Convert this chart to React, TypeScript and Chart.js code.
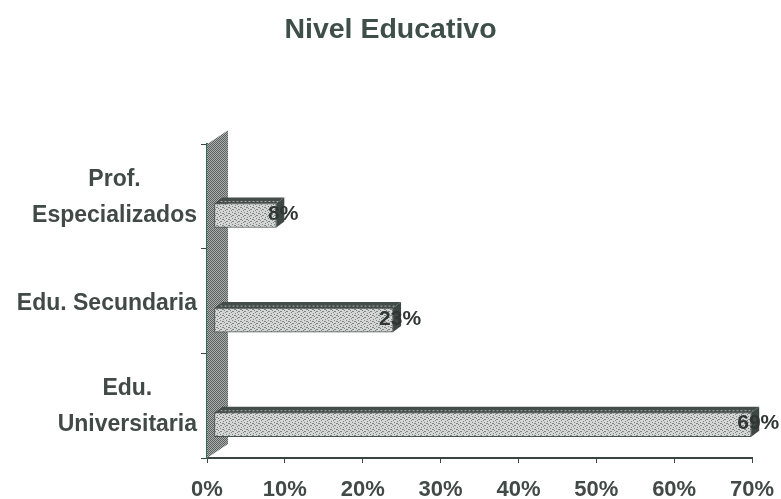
import React, { useEffect, useRef } from "react";
import { Chart, registerables } from "chart.js";

Chart.register(...registerables);

const categories = [["Prof.", "Especializados"], ["Edu. Secundaria"], ["Edu.", "Universitaria"]];
const values = [8, 23, 69];
const xTicks = [0, 10, 20, 30, 40, 50, 60, 70];
const titleText = "Nivel Educativo";

const INK = "#414a47";
const FONT = "'Liberation Sans', Arial, sans-serif";
const FRONT = { x: 7, y: 19 };
const BAR_DEPTH = { x: 8, y: 6 };
const WALL_DEPTH = { x: 21, y: 14 };

function tile(size: number, base: string, dot: string, cells: number[][]) {
  const c = document.createElement("canvas");
  c.width = size;
  c.height = size;
  const g = c.getContext("2d")!;
  g.fillStyle = base;
  g.fillRect(0, 0, size, size);
  g.fillStyle = dot;
  cells.forEach(([x, y]) => g.fillRect(x, y, 1, 1));
  return g.createPattern(c, "repeat")!;
}

const bar3d = {
  id: "bar3d",
  beforeDatasetsDraw(chart: any) {
    const { ctx, chartArea: a } = chart;
    const wall = tile(2, "#a9adab", "#5b625f", [[0, 0], [1, 1]]);
    ctx.save();
    ctx.fillStyle = wall;
    ctx.beginPath();
    ctx.moveTo(a.left, a.top);
    ctx.lineTo(a.left + WALL_DEPTH.x, a.top - WALL_DEPTH.y);
    ctx.lineTo(a.left + WALL_DEPTH.x, a.bottom - WALL_DEPTH.y);
    ctx.lineTo(a.left, a.bottom);
    ctx.closePath();
    ctx.fill();
    ctx.restore();
    ctx.save();
    ctx.translate(FRONT.x, FRONT.y);
  },
  afterDatasetsDraw(chart: any) {
    const { ctx, scales } = chart;
    ctx.restore();
    const bars = chart.getDatasetMeta(0).data;
    ctx.save();
    bars.forEach((b: any, i: number) => {
      const left = b.base + FRONT.x;
      const right = b.x + FRONT.x;
      const top = b.y - b.height / 2 + FRONT.y;
      const bottom = b.y + b.height / 2 + FRONT.y;
      ctx.fillStyle = "#454d4a";
      ctx.beginPath();
      ctx.moveTo(left, top);
      ctx.lineTo(left + BAR_DEPTH.x, top - BAR_DEPTH.y);
      ctx.lineTo(right + BAR_DEPTH.x, top - BAR_DEPTH.y);
      ctx.lineTo(right, top);
      ctx.closePath();
      ctx.fill();
      ctx.strokeStyle = "#a4aaa7";
      ctx.setLineDash([2, 2]);
      ctx.lineWidth = 1;
      ctx.beginPath();
      ctx.moveTo(left + 6, top - 2);
      ctx.lineTo(right + 2, top - 2);
      ctx.stroke();
      ctx.setLineDash([]);
      ctx.fillStyle = "#3f4744";
      ctx.beginPath();
      ctx.moveTo(right, top);
      ctx.lineTo(right + BAR_DEPTH.x, top - BAR_DEPTH.y);
      ctx.lineTo(right + BAR_DEPTH.x, bottom - BAR_DEPTH.y);
      ctx.lineTo(right, bottom);
      ctx.closePath();
      ctx.fill();
      ctx.fillStyle = "#2f3634";
      ctx.font = `bold 21px ${FONT}`;
      ctx.textAlign = "center";
      ctx.textBaseline = "middle";
      ctx.fillText(`${values[i]}%`, scales.x.getPixelForValue(values[i]) + 14, b.y + FRONT.y - 1);
    });
    ctx.restore();
  },
  afterDraw(chart: any) {
    const { ctx, scales } = chart;
    const y = scales.y;
    ctx.save();
    ctx.fillStyle = INK;
    ctx.font = `bold 23px ${FONT}`;
    ctx.textBaseline = "middle";
    const lineH = 36;
    categories.forEach((lines, i) => {
      const cy = y.getPixelForValue(i) + (lines.length > 1 ? 1 : 3);
      const widest = Math.max(...lines.map((l) => ctx.measureText(l).width));
      const cx = 197 - widest / 2;
      ctx.textAlign = "center";
      lines.forEach((l, k) => {
        ctx.fillText(l, cx, cy + (k - (lines.length - 1) / 2) * lineH);
      });
    });
    ctx.restore();
  },
};

export default function App() {
  const ref = useRef<HTMLCanvasElement>(null);
  useEffect(() => {
    document.body.style.margin = "0";
    document.body.style.background = "#ffffff";
    const front = tile(6, "#d3d6d4", "#7f8683", [
      [0, 0], [3, 1], [5, 2], [1, 3], [4, 4], [2, 5], [0, 2], [3, 4],
    ]);
    const chart = new Chart(ref.current!, {
      type: "bar",
      data: {
        labels: categories.map((c) => c.join(" ")),
        datasets: [
          {
            data: values,
            backgroundColor: front,
            borderColor: "#4c5451",
            borderWidth: 1,
            barThickness: 24,
            borderSkipped: false,
          } as any,
        ],
      },
      options: {
        indexAxis: "y",
        animation: false,
        responsive: false,
        devicePixelRatio: 1,
        layout: { padding: { left: 29, right: 29, top: 0, bottom: 0 } },
        plugins: {
          legend: { display: false },
          tooltip: { enabled: false },
          title: {
            display: true,
            text: titleText,
            color: "#3d4f48",
            font: { family: FONT, size: 28.5, weight: "bold" },
            padding: { top: 13, bottom: 97 },
          },
        },
        scales: {
          x: {
            min: 0,
            max: 70,
            afterBuildTicks: (s: any) => {
              s.ticks = xTicks.map((value) => ({ value }));
            },
            afterFit: (s: any) => {
              s.height = 41;
              s.paddingLeft = 0;
              s.paddingRight = 0;
            },
            border: { color: "#3a4440", width: 2 },
            grid: { drawOnChartArea: false, drawTicks: true, tickLength: 5, color: "#3a4440" },
            ticks: {
              color: INK,
              padding: 14,
              maxRotation: 0,
              autoSkip: false,
              font: { family: FONT, size: 22, weight: "bold" },
              callback: (v: any) => `${v}%`,
            },
          },
          y: {
            afterFit: (s: any) => {
              s.width = 178;
            },
            border: { color: "#2f6b58", width: 2 },
            grid: { drawOnChartArea: false, drawTicks: true, tickLength: 6, color: "#3a4440" },
            ticks: { display: false },
          },
        },
      },
      plugins: [bar3d],
    } as any);
    return () => chart.destroy();
  }, []);
  return <canvas ref={ref} width={781} height={499} style={{ display: "block" }} />;
}
